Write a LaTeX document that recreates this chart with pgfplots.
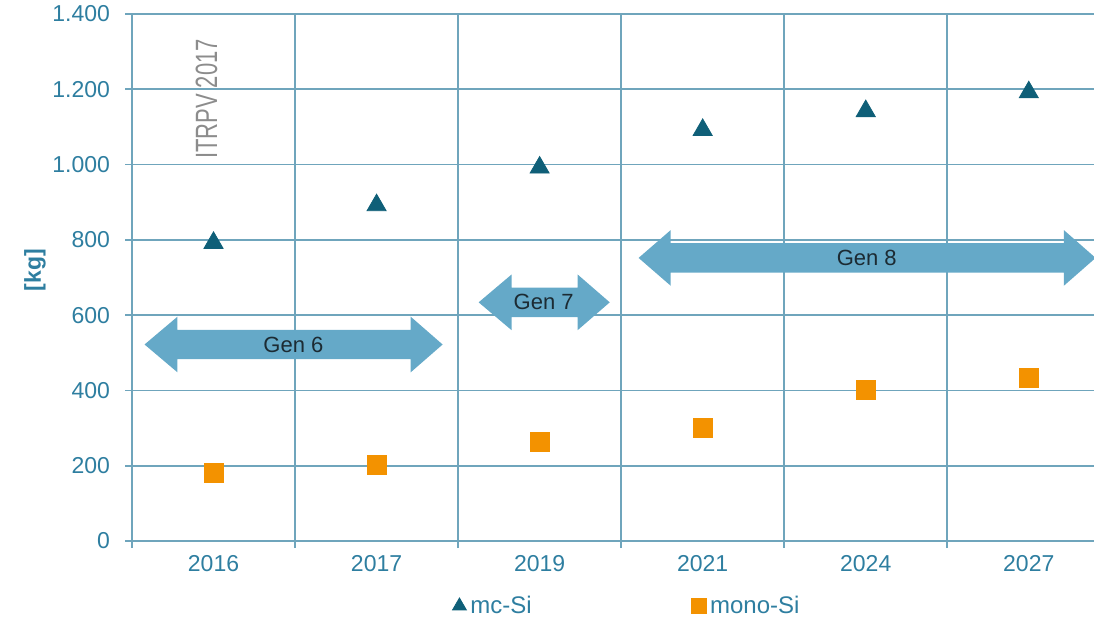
\documentclass[border=0pt]{standalone}
\usepackage{fontspec}
\setmainfont{Liberation Sans}
\usepackage{pgfplots}
\pgfplotsset{compat=1.18}
\usetikzlibrary{calc}
\definecolor{gridc}{HTML}{6FA5BC}
\definecolor{tickc}{HTML}{2E7EA0}
\definecolor{mcsi}{HTML}{0F5F78}
\definecolor{monosi}{HTML}{F39200}
\definecolor{arrowc}{HTML}{65A9C8}
\definecolor{gentext}{HTML}{1C2B33}
\begin{document}
\begin{tikzpicture}
\begin{axis}[
  scale only axis,
  width=481pt, height=263.5pt,
  xmin=-0.5, xmax=5.4,
  ymin=0, ymax=1400,
  axis x line*=bottom, axis y line*=left,
  axis line style={draw=gridc, line width=0.8pt, -},
  grid=major,
  major grid style={draw=gridc, line width=0.8pt},
  tick style={draw=gridc, line width=0.8pt},
  tick align=outside,
  major tick length=3.5pt,
  xtick={-0.5,0.5,1.5,2.5,3.5,4.5},
  xticklabels={},
  extra x ticks={0,1,2,3,4,5},
  extra x tick labels={2016,2017,2019,2021,2024,2027},
  extra x tick style={grid=none, major tick length=0pt, tick style={draw=none}},
  ytick={0,200,...,1400},
  scaled y ticks=false,
  /pgf/number format/.cd, 1000 sep={.}, assume math mode=true, /pgfplots/.cd,
  ticklabel style={font=\fontsize{11.5}{13}\selectfont, text=tickc},
  yticklabel style={xshift=-4pt},
  xticklabel style={yshift=-3.5pt},
  ylabel={[kg]},
  ylabel style={font=\fontsize{11.5}{13}\selectfont\bfseries, text=tickc, at={(axis description cs:-0.1008,0.514)}, anchor=center, rotate=0},
  legend style={at={(0.5156,-0.1233)}, anchor=center, draw=none, fill=none,
    font=\fontsize{12}{14}\selectfont, text=tickc, legend columns=2,
    /tikz/every even column/.append style={column sep=78pt}},
  legend cell align=left,
  clip=true,
]
\coordinate (ll) at (rel axis cs:0,0);
\coordinate (ur) at (rel axis cs:1,1);
% Gen arrows (annotations)
\fill[arrowc] (axis cs:-0.423,522) -- (axis cs:-0.221,596) -- (axis cs:-0.221,561) -- (axis cs:1.209,561) -- (axis cs:1.209,596) -- (axis cs:1.405,522) -- (axis cs:1.209,448) -- (axis cs:1.209,483) -- (axis cs:-0.221,483) -- (axis cs:-0.221,448) -- cycle;
\fill[arrowc] (axis cs:1.626,634) -- (axis cs:1.828,708) -- (axis cs:1.828,673) -- (axis cs:2.233,673) -- (axis cs:2.233,708) -- (axis cs:2.43,634) -- (axis cs:2.233,560) -- (axis cs:2.233,595) -- (axis cs:1.828,595) -- (axis cs:1.828,560) -- cycle;
\fill[arrowc] (axis cs:2.607,752) -- (axis cs:2.804,826) -- (axis cs:2.804,791) -- (axis cs:5.215,791) -- (axis cs:5.215,826) -- (axis cs:5.41,752) -- (axis cs:5.215,678) -- (axis cs:5.215,713) -- (axis cs:2.804,713) -- (axis cs:2.804,678) -- cycle;
\node[font=\fontsize{11}{13}\selectfont, text=gentext] at (axis cs:0.49,522) {Gen 6};
\node[font=\fontsize{11}{13}\selectfont, text=gentext] at (axis cs:2.025,634) {Gen 7};
\node[font=\fontsize{11}{13}\selectfont, text=gentext] at (axis cs:4.006,752) {Gen 8};
\node[rotate=90, font=\fontsize{11}{13}\selectfont, text=gray!90] at (axis cs:-0.043,1174) {\scalebox{1}[1.4]{ITRPV 2017}};
% data
\addplot[only marks, mark=triangle*, mark size=5.5pt, color=mcsi, mark options={yshift=-1.5pt}, forget plot]
  coordinates {(0,800) (1,900) (2,1000) (3,1100) (4,1150) (5,1200)};
\addplot[only marks, mark=square*, mark size=4.75pt, color=monosi, forget plot]
  coordinates {(0,180) (1,202) (2,262) (3,300) (4,401) (5,432)};
\addlegendimage{only marks, mark=triangle*, mark size=4pt, color=mcsi}
\addlegendentry{mc-Si}
\addlegendimage{only marks, mark=square*, mark size=3.6pt, color=monosi}
\addlegendentry{mono-Si}
\end{axis}
\pgfresetboundingbox
\path[use as bounding box] ($(ll)+(-66pt,-39.5pt)$) rectangle ($(ur)+(0pt,7pt)$);
\end{tikzpicture}
\end{document}
